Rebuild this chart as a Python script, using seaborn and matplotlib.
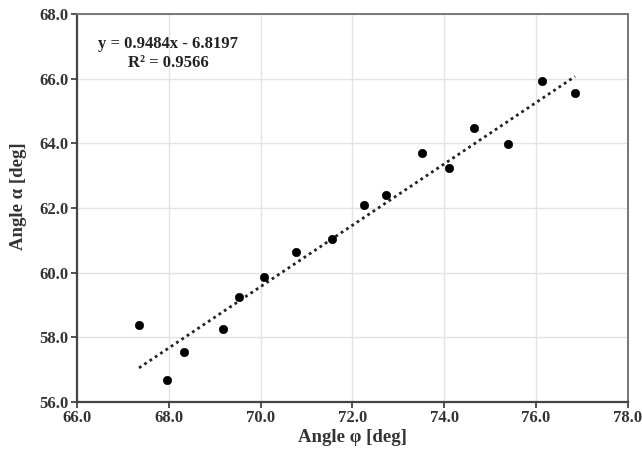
import matplotlib
matplotlib.use("Agg")
import matplotlib.pyplot as plt
import numpy as np
import seaborn as sns

phi = [67.35, 67.96, 68.33, 69.17, 69.52, 70.07, 70.77, 71.56,
       72.25, 72.73, 73.51, 74.10, 74.64, 75.38, 76.12, 76.85]
alpha = [58.37, 56.68, 57.54, 58.25, 59.26, 59.86, 60.65, 61.04,
         62.10, 62.40, 63.71, 63.23, 64.48, 63.97, 65.93, 65.56]
slope = 0.9484
intercept = -6.8197
r2 = 0.9566
x_ticks = [66.0, 68.0, 70.0, 72.0, 74.0, 76.0, 78.0]
y_ticks = [56.0, 58.0, 60.0, 62.0, 64.0, 66.0, 68.0]

sns.set_style("whitegrid")
plt.rcParams["font.family"] = ["Liberation Serif", "DejaVu Serif"]

fig = plt.figure(figsize=(6.42, 4.54), dpi=100)
ax = fig.add_axes([0.12, 0.1145, 0.858, 0.855])

fit_x = np.array([min(phi), max(phi)])
ax.plot(fit_x, slope * fit_x + intercept, color="#222222", lw=2.0,
        linestyle=(0, (1, 1.3)), zorder=2)
sns.scatterplot(x=phi, y=alpha, ax=ax, color="black", s=36,
                edgecolor="black", zorder=3)

ax.set_xlim(x_ticks[0], x_ticks[-1])
ax.set_ylim(y_ticks[0], y_ticks[-1])
ax.set_xticks(x_ticks)
ax.set_yticks(y_ticks)
ax.set_xticklabels([f"{v:.1f}" for v in x_ticks])
ax.set_yticklabels([f"{v:.1f}" for v in y_ticks])
ax.grid(True, color="#e3e3e3", lw=1.0)
ax.tick_params(axis="both", which="major", labelsize=12, colors="#333333",
               length=4, width=1.2, direction="out", pad=2,
               bottom=True, left=True)
for lab in ax.get_xticklabels() + ax.get_yticklabels():
    lab.set_fontweight("bold")

for side in ["left", "bottom"]:
    ax.spines[side].set_color("#444444")
    ax.spines[side].set_linewidth(1.6)
for side in ["top", "right"]:
    ax.spines[side].set_color("#777777")
    ax.spines[side].set_linewidth(1.4)

ax.set_xlabel("Angle φ [deg]", fontsize=13.5, fontweight="bold", color="#333333", labelpad=2)
ax.set_ylabel("Angle α [deg]", fontsize=13.5, fontweight="bold", color="#333333")
ax.yaxis.set_label_coords(-0.09, 0.53)

ax.text(0.165, 0.923, f"y = {slope}x - {abs(intercept)}", transform=ax.transAxes,
        ha="center", va="center", fontsize=12, fontweight="bold", color="#222222")
ax.text(0.165, 0.874, f"R² = {r2}", transform=ax.transAxes,
        ha="center", va="center", fontsize=12, fontweight="bold", color="#222222")

fig.savefig("out.png", dpi=100)
